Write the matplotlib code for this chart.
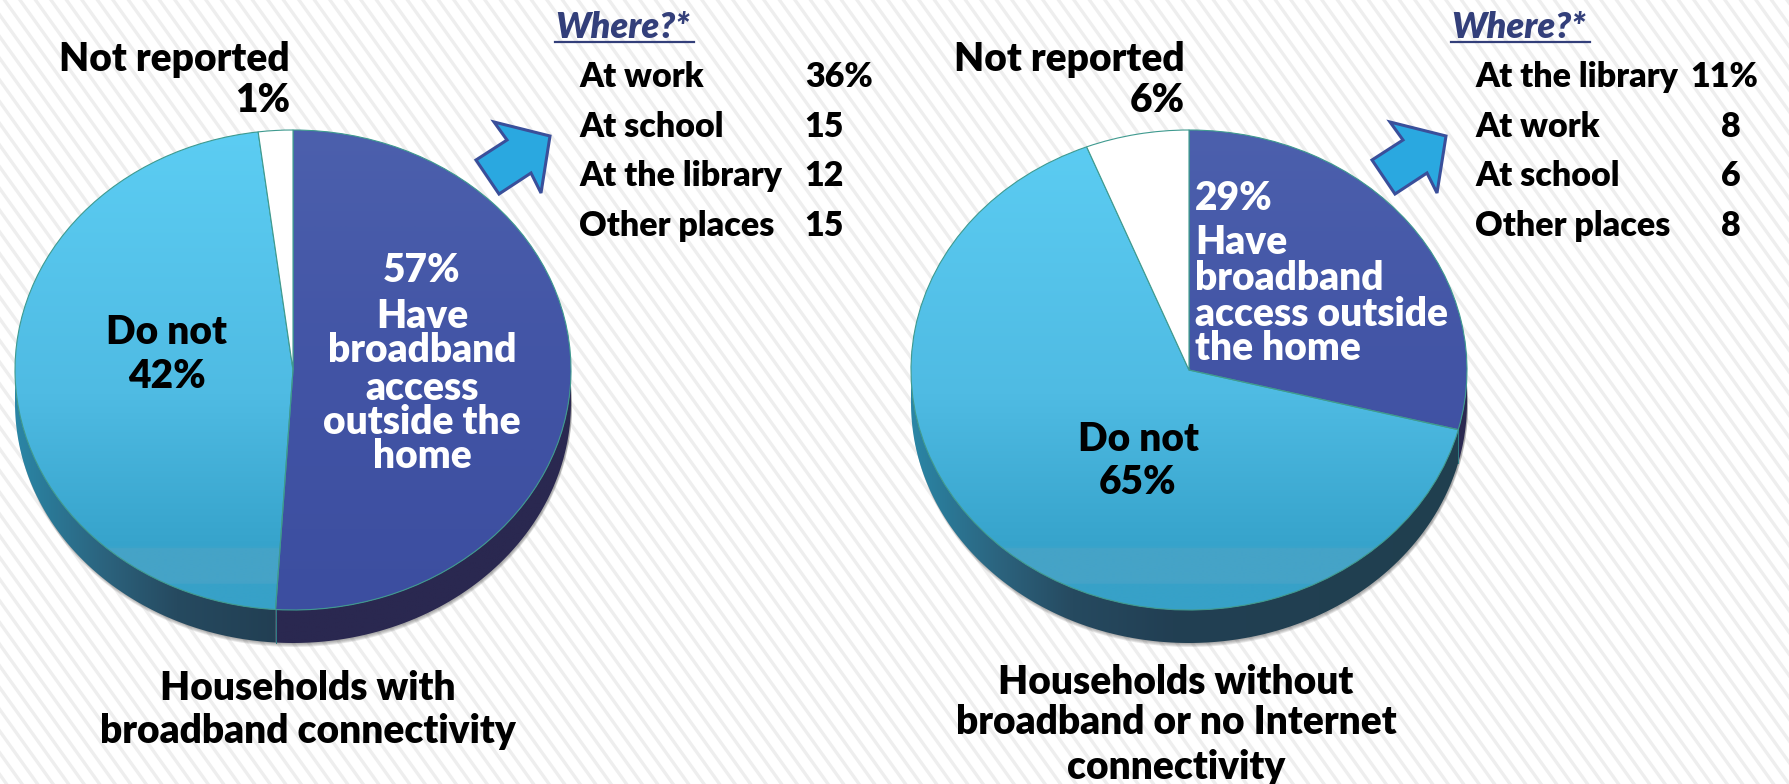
import numpy as np
import matplotlib
matplotlib.use('Agg')
import matplotlib.pyplot as plt
from matplotlib.patches import Polygon
from matplotlib.colors import LinearSegmentedColormap

W, H = 1789, 784

# slice sizes as drawn in the picture (left pie is not drawn to its printed labels)
slices_left = [51, 47, 2]
slices_right = [29, 65, 6]

where_left = ['At work', 'At school', 'At the library', 'Other places']
where_left_vals = ['36%', '15', '12', '15']
where_right = ['At the library', 'At work', 'At school', 'Other places']
where_right_vals = ['11%', '8', '6', '8']

title_left = ['Households with', 'broadband connectivity']
title_right = ['Households without', 'broadband or no Internet', 'connectivity']

FONT = 'Lato'
WEIGHT = 'heavy'
RX, RY, DEPTH = 278, 240, 33
CY = 370

top_blue = LinearSegmentedColormap.from_list('b', ['#4c60ad', '#4254a5', '#3c4ea0'])
top_light = LinearSegmentedColormap.from_list('l', [
    (0, '#5ccdf3'), (0.55, '#4fbbe3'), (0.87, '#36a3cb'), (0.872, '#45a3c7'),
    (0.945, '#45a3c7'), (0.947, '#37a1c8'), (1, '#37a1c8')])
side_blue = LinearSegmentedColormap.from_list('sb', ['#2a2850', '#2a2850'])
side_light = LinearSegmentedColormap.from_list('sl', [
    (0, '#2a86a6'), (0.15, '#2c6580'), (0.29, '#264a60'), (0.47, '#223f53'), (1, '#20404f')])

fig = plt.figure(figsize=(W / 100, H / 100), dpi=100)
ax = fig.add_axes([0, 0, 1, 1])
ax.set_xlim(0, W)
ax.set_ylim(H, 0)
ax.axis('off')

# background stripes
for x0 in np.arange(-600, W + 100, 15.5):
    ax.plot([x0, x0 + 560], [0, 784], color='#eeeeee', lw=2.4, zorder=0)


def arc(cx, cy, a0, a1, n=200):
    # angles clockwise from the top of the pie, in degrees
    t = np.radians(np.linspace(a0, a1, n))
    return np.column_stack([cx + RX * np.sin(t), cy - RY * np.cos(t)])


def gradient(cmap, extent, clip):
    g = np.linspace(0, 1, 256).reshape(1, -1)
    im = ax.imshow(g, cmap=cmap, extent=extent, aspect='auto', zorder=3,
                   interpolation='bilinear')
    clip.set_transform(ax.transData)
    im.set_clip_path(clip)


def draw_pie(cx, slices):
    shares = np.cumsum([0] + slices) / sum(slices) * 360

    # soft shadow
    for i in range(4):
        outline = arc(cx + 1, CY + DEPTH + 1 + i, 0, 360)
        ax.add_patch(Polygon(outline, closed=True, fc='#444444', ec='none', alpha=0.13, zorder=2))

    # side wall, split where the slices cut the rim
    for a0, a1, cmap in [(90, shares[1], side_blue), (max(shares[1], 90), 270, side_light)]:
        rim = arc(cx, CY, a0, a1)
        low = arc(cx, CY + DEPTH, a1, a0)
        clip = Polygon(np.vstack([rim, low]), closed=True, fc='none', ec='none')
        gradient(cmap, [cx - RX, cx + RX, CY + RY + DEPTH, CY], clip)
    seam = arc(cx, CY, shares[1], shares[1], n=1)[0]
    ax.plot([seam[0], seam[0]], [seam[1], seam[1] + DEPTH], color='#2f7f86', lw=0.7, zorder=4)

    # top face: pie drawn in its own axes, then stretched into the ellipse
    pax = fig.add_axes([(cx - RX) / W, 1 - (CY + RY) / H, 2 * RX / W, 2 * RY / H], zorder=2)
    wedges, _ = pax.pie(slices, startangle=90, counterclock=False, radius=1,
                        colors=['#4356a6', '#4dbce6', '#ffffff'],
                        wedgeprops={'edgecolor': '#3f9a8f', 'linewidth': 0.8})
    pax.set_aspect('auto')
    pax.patch.set_visible(False)
    for wedge, cmap in zip(wedges[:2], [top_blue, top_light]):
        g = np.linspace(0, 1, 512).reshape(-1, 1)
        im = pax.imshow(g, cmap=cmap, extent=[-1, 1, -1, 1], aspect='auto', zorder=1,
                        interpolation='bilinear')
        im.set_clip_path(wedge)
        wedge.set_facecolor('none')
    for wedge in wedges:
        wedge.set_zorder(2)
    pax.set_xlim(-1, 1)
    pax.set_ylim(-1, 1)


def draw_where(dx, labels, vals, digit_edge, pct_x):
    ax.text(555 + dx, 27, 'Where?*', family=FONT, weight=WEIGHT, style='italic', size=26,
            color='#333f7a', va='center', ha='left', zorder=6)
    ax.plot([555 + dx, 694 + dx], [42, 42], color='#333f7a', lw=1.6, zorder=6)
    for y, lab, val in zip([77, 127, 176, 226], labels, vals):
        ax.text(579 + dx, y, lab, family=FONT, weight=WEIGHT, size=24.5, va='center', color='black', zorder=6)
        if '%' in val:
            ax.text(pct_x, y, val, family=FONT, weight=WEIGHT, size=24.5, va='center', ha='left', zorder=6)
        else:
            ax.text(digit_edge, y, val, family=FONT, weight=WEIGHT, size=24.5, va='center', ha='right', zorder=6)
    arrow = np.array([[494, 122], [550, 136], [541, 193], [531, 173], [499, 194], [476, 160], [507, 140]], float)
    arrow[:, 0] += dx
    ax.add_patch(Polygon(arrow, closed=True, fc='#2aa8e0', ec='#3a4f9a', lw=2.2, zorder=6))


def label(x, y, s, color='black', ha='center', size=28):
    fig.text(x / W, 1 - (y + 2) / H, s, family=FONT, weight=WEIGHT, size=size, color=color,
             ha=ha, va='center', zorder=10)


draw_pie(293, slices_left)
draw_pie(1189, slices_right)
draw_where(0, where_left, where_left_vals, 844, 805)
draw_where(896, where_right, where_right_vals, 1741, 1690)

# left pie texts
label(290, 57, 'Not reported', ha='right')
label(290, 98, '1%', ha='right')
for y, s in zip([269, 315, 349, 386, 421, 455], ['57%', 'Have', 'broadband', 'access', 'outside the', 'home']):
    label(422, y, s, color='white')
label(167, 331, 'Do not')
label(167, 375, '42%')
for y, s in zip([686, 730], title_left):
    label(308, y, s)

# right pie texts
label(1185, 57, 'Not reported', ha='right')
label(1185, 98, '6%', ha='right')
for y, s in zip([196, 241, 276, 312, 347], ['29%', 'Have', 'broadband', 'access outside', 'the home']):
    label(1195, y, s, color='white', ha='left')
label(1138, 438, 'Do not')
label(1138, 481, '65%')
for y, s in zip([680, 721, 766], title_right):
    label(1176, y, s)

fig.savefig('out.png', dpi=100)
